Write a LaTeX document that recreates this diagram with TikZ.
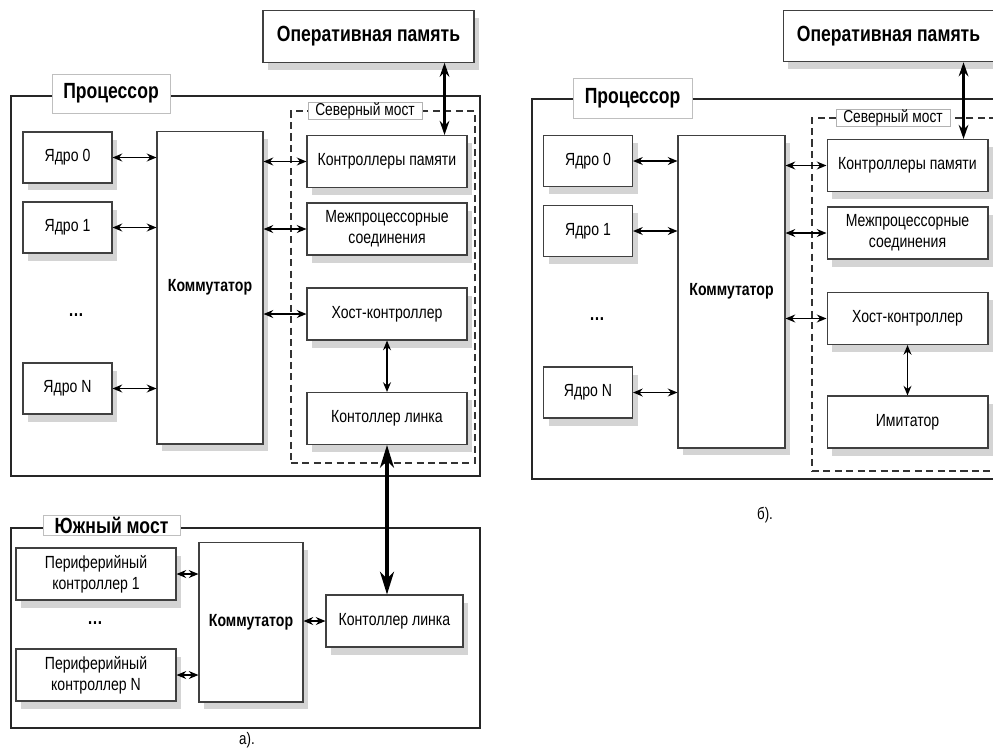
\documentclass[tikz,border=0pt]{standalone}
\usepackage{fontspec}
\setmainfont[FakeStretch=0.8]{Liberation Sans}
\usetikzlibrary{arrows.meta,shadows}

\tikzset{
  blk/.style={rectangle,draw=black!75,fill=white,line width=0.6pt,inner sep=1pt,align=center,
    font=\fontsize{10}{12}\selectfont,
    drop shadow={shadow xshift=0.1cm,shadow yshift=-0.15cm,fill=black!17,draw=none,opacity=1}},
  core/.style={blk,minimum width=1.78cm,minimum height=1.02cm},
  nbblk/.style={blk,minimum width=3.2cm,minimum height=1.04cm},
  swblk/.style={blk,font=\bfseries\fontsize{10}{12}\selectfont},
  memblk/.style={blk,minimum width=4.22cm,minimum height=1.03cm,font=\bfseries\fontsize{12.5}{14}\selectfont},
  cpubox/.style={rectangle,draw=black!85,line width=1.1pt,inner sep=0pt},
  nbbox/.style={rectangle,draw=black!80,line width=0.8pt,dash pattern=on 4pt off 2.5pt,inner sep=0pt},
  ttl/.style={rectangle,draw=black!25,fill=white,inner sep=0pt,font=\bfseries\fontsize{12.5}{14}\selectfont},
  nbttl/.style={rectangle,draw=black!30,fill=white,inner sep=0pt,minimum width=2.28cm,minimum height=0.3cm,
    font=\fontsize{9.8}{10}\selectfont},
  dots/.style={font=\bfseries\fontsize{11}{12}\selectfont},
  figcap/.style={font=\fontsize{9.5}{10}\selectfont},
  lnk/.style={{Stealth[length=5.5pt,width=4.5pt]}-{Stealth[length=5.5pt,width=4.5pt]},line width=0.7pt},
  memlnk/.style={{Stealth[length=8pt,width=5.5pt]}-{Stealth[length=8pt,width=5.5pt]},line width=1.4pt},
  buslnk/.style={{Stealth[length=13pt,width=8pt,inset=4pt]}-{Stealth[length=13pt,width=8pt,inset=4pt]},line width=1.8pt}
}

\begin{document}
\begin{tikzpicture}[x=0.02cm,y=-0.02cm]
  \useasboundingbox (0,0) rectangle (993,751);
  \clip (0,0) rectangle (993,751);

  % a)
  \node (cpuA) [cpubox,minimum width=9.38cm,minimum height=7.6cm] at (245.5,286) {};
  \node (nbA) [nbbox,minimum width=3.68cm,minimum height=7.04cm] at (383,287) {};
  \node (cpuAt) [ttl,minimum width=2.36cm,minimum height=0.78cm] at (111,93.5) {Процессор};
  \node (nbAt) [nbttl] at (365,111) {Северный мост};

  \node (memA) [memblk] at (368.5,36.5) {Оперативная память};

  \node (k0A) [core] at (67.5,157.5) {Ядро 0};
  \node (k1A) [core] at (67.5,227.5) {Ядро 1};
  \node (dotsA) [dots] at (76,315) {…};
  \node (kNA) [core] at (67.5,388.5) {Ядро N};

  \node (swA) [swblk,minimum width=2.12cm,minimum height=6.26cm] at (210,287.5) {Коммутатор};

  \node (mcA) [nbblk] at (387,161.5) {Контроллеры памяти};
  \node (ipA) [nbblk] at (387,229) {Межпроцессорные\\соединения};
  \node (hcA) [nbblk] at (387,314) {Хост-контроллер};
  \node (lcA) [nbblk] at (387,418.5) {Контоллер линка};

  \node (sbA) [cpubox,minimum width=9.38cm,minimum height=4cm] at (245.5,628) {};
  \node (sbAt) [ttl,minimum width=2.74cm,minimum height=0.4cm] at (111.5,525) {Южный мост};

  \node (pc1) [nbblk] at (96,574) {Периферийный\\контроллер 1};
  \node (dotsS) [dots] at (95,623) {…};
  \node (pcN) [nbblk] at (96,675) {Периферийный\\контроллер N};
  \node (swS) [swblk,minimum width=2.08cm,minimum height=3.2cm] at (251,622) {Коммутатор};
  \node (lcS) [blk,minimum width=2.74cm,minimum height=1.04cm] at (394.5,621) {Контоллер линка};

  \node (capA) [figcap] at (247,740) {а).};

  % б)
  \node (cpuB) [cpubox,minimum width=9.6cm,minimum height=7.6cm] at (772,289) {};
  \node (nbB) [nbbox,minimum width=3.68cm,minimum height=7.06cm] at (904,294.5) {};
  \node (cpuBt) [ttl,minimum width=2.38cm,minimum height=0.8cm] at (632.5,98) {Процессор};
  \node (nbBt) [nbttl] at (893,118) {Северный мост};

  \node (memB) [memblk] at (888.5,36) {Оперативная память};

  \node (k0B) [core] at (588,161) {Ядро 0};
  \node (k1B) [core] at (588,231) {Ядро 1};
  \node (dotsB) [dots] at (597,319) {…};
  \node (kNB) [core] at (588,392.5) {Ядро N};

  \node (swB) [swblk,minimum width=2.14cm,minimum height=6.26cm] at (731.5,291.5) {Коммутатор};

  \node (mcB) [nbblk,minimum width=3.22cm] at (907.5,165.5) {Контроллеры памяти};
  \node (ipB) [nbblk,minimum width=3.22cm] at (907.5,233) {Межпроцессорные\\соединения};
  \node (hcB) [nbblk,minimum width=3.22cm] at (907.5,318.5) {Хост-контроллер};
  \node (imB) [nbblk,minimum width=3.22cm] at (907.5,422) {Имитатор};

  \node (capB) [figcap] at (765,515) {б).};

  % connections a)
  \draw[lnk] (k0A.east) -- (k0A.east -| swA.west);
  \draw[lnk] (k1A.east) -- (k1A.east -| swA.west);
  \draw[lnk] (kNA.east) -- (kNA.east -| swA.west);
  \draw[lnk] (mcA.west -| swA.east) -- (mcA.west);
  \draw[lnk] (ipA.west -| swA.east) -- (ipA.west);
  \draw[lnk] (hcA.west -| swA.east) -- (hcA.west);
  \draw[lnk] (hcA) -- (lcA);

  \draw[lnk] (pc1.east) -- (pc1.east -| swS.west);
  \draw[lnk] (pcN.east) -- (pcN.east -| swS.west);
  \draw[lnk] (swS.east |- lcS.west) -- (lcS.west);

  \coordinate (mpA) at ([xshift=-0.46cm]mcA.north east);
  \draw[memlnk] (mpA) -- (mpA |- memA.south);
  \draw[buslnk] (lcA.south) -- (lcA.south |- lcS.north);

  % connections б)
  \draw[lnk] (k0B.east) -- (k0B.east -| swB.west);
  \draw[lnk] (k1B.east) -- (k1B.east -| swB.west);
  \draw[lnk] (kNB.east) -- (kNB.east -| swB.west);
  \draw[lnk] (mcB.west -| swB.east) -- (mcB.west);
  \draw[lnk] (ipB.west -| swB.east) -- (ipB.west);
  \draw[lnk] (hcB.west -| swB.east) -- (hcB.west);
  \draw[lnk] (hcB) -- (imB);

  \coordinate (mpB) at ([xshift=-0.5cm]mcB.north east);
  \draw[memlnk] (mpB) -- (mpB |- memB.south);
\end{tikzpicture}
\end{document}
